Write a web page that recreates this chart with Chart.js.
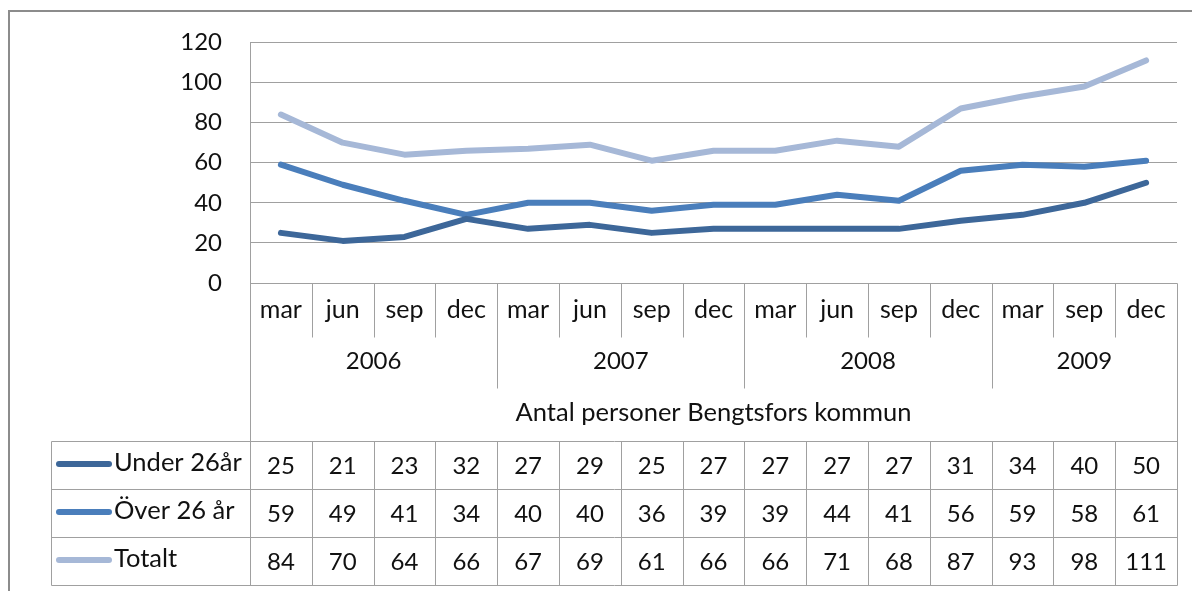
<!DOCTYPE html>
<html>
<head>
<meta charset="utf-8">
<script src="https://cdn.jsdelivr.net/npm/chart.js@4"></script>
<style>
  html, body { margin: 0; padding: 0; background: #fff; }
  #wrap { width: 1192px; height: 591px; }
</style>
</head>
<body>
<div id="wrap"><canvas id="lineChart" width="1192" height="591"></canvas></div>
<script>
var months = ['mar', 'jun', 'sep', 'dec', 'mar', 'jun', 'sep', 'dec', 'mar', 'jun', 'sep', 'dec', 'mar', 'sep', 'dec'];
var years = ['2006', '2007', '2008', '2009'];
var yearSpans = [4, 4, 4, 3];
var axisTitle = 'Antal personer Bengtsfors kommun';
var under26 = [25, 21, 23, 32, 27, 29, 25, 27, 27, 27, 27, 31, 34, 40, 50];
var over26 = [59, 49, 41, 34, 40, 40, 36, 39, 39, 44, 41, 56, 59, 58, 61];
var totalt = [84, 70, 64, 66, 67, 69, 61, 66, 66, 71, 68, 87, 93, 98, 111];
var yTicks = [0, 20, 40, 60, 80, 100, 120];

var FONT = 'Lato, "Open Sans", sans-serif';
var gridColor = '#a0a0a0';

// draws the data table below the plot, using the x scale's positions
var dataTable = {
    id: 'dataTable',
    afterDraw: function (chart) {
        var c = chart.ctx;
        var x = chart.scales.x;
        var area = chart.chartArea;
        var n = months.length;
        var w = (area.right - area.left) / n;
        var top = area.bottom;
        var monthBottom = top + 54;
        var yearBottom = top + 105;
        var tableTop = top + 158;
        var rowH = 48;
        var legendLeft = 51;
        var tableBottom = tableTop + rowH * 3;

        c.save();
        c.strokeStyle = gridColor;
        c.lineWidth = 1;

        function line(x1, y1, x2, y2) {
            c.beginPath();
            c.moveTo(Math.round(x1) + 0.5, Math.round(y1) + 0.5);
            c.lineTo(Math.round(x2) + 0.5, Math.round(y2) + 0.5);
            c.stroke();
        }

        // outer chart border
        c.strokeStyle = '#8c8c8c';
        c.lineWidth = 2;
        c.strokeRect(9, 11, 1300, 700);
        c.lineWidth = 1;
        c.strokeStyle = gridColor;

        // axis line and left/right edges
        line(area.left, top, area.right, top);
        line(area.left, top, area.left, tableBottom);
        line(area.right, top, area.right, tableBottom);

        // month separators
        for (var i = 1; i < n; i++) {
            line(area.left + i * w, top, area.left + i * w, monthBottom);
        }
        // year separators
        var acc = 0;
        for (var j = 0; j < yearSpans.length - 1; j++) {
            acc += yearSpans[j];
            line(area.left + acc * w, top, area.left + acc * w, yearBottom);
        }

        // table grid
        for (var r = 0; r <= 3; r++) {
            line(legendLeft, tableTop + r * rowH, area.right, tableTop + r * rowH);
        }
        line(legendLeft, tableTop, legendLeft, tableBottom);
        for (var k = 1; k < n; k++) {
            line(area.left + k * w, tableTop, area.left + k * w, tableBottom);
        }

        // texts
        c.fillStyle = '#111';
        c.font = '25px ' + FONT;
        c.textAlign = 'center';
        c.textBaseline = 'middle';
        for (var m = 0; m < n; m++) {
            c.fillText(months[m], x.getPixelForValue(m), top + 27);
        }
        c.font = '24px ' + FONT;
        acc = 0;
        for (var y = 0; y < years.length; y++) {
            var mid = area.left + (acc + yearSpans[y] / 2) * w;
            c.fillText(years[y], mid, top + 78);
            acc += yearSpans[y];
        }
        c.font = '25.5px ' + FONT;
        c.fillText(axisTitle, (area.left + area.right) / 2, top + 130);

        chart.data.datasets.forEach(function (ds, r) {
            var cy = tableTop + r * rowH + rowH / 2 + 1;
            c.font = '24px ' + FONT;
            c.textAlign = 'center';
            ds.data.forEach(function (v, i) {
                c.fillText(String(v), x.getPixelForValue(i), cy);
            });
            // legend key
            c.strokeStyle = ds.borderColor;
            c.lineWidth = 6;
            c.lineCap = 'round';
            c.beginPath();
            c.moveTo(59, cy - 2);
            c.lineTo(109, cy - 2);
            c.stroke();
            c.font = '25.5px ' + FONT;
            c.textAlign = 'left';
            c.fillText(ds.label, 114, cy - 3);
        });
        c.restore();
    }
};

var ctx = document.getElementById('lineChart').getContext('2d');
var myChart = new Chart(ctx, {
    type: 'line',
    data: {
        labels: months,
        datasets: [
            {
                label: 'Under 26år',
                data: under26,
                borderColor: '#3d6799',
                borderWidth: 6
            },
            {
                label: 'Över 26 år',
                data: over26,
                borderColor: '#4a7ebb',
                borderWidth: 6
            },
            {
                label: 'Totalt',
                data: totalt,
                borderColor: '#a6b8d7',
                borderWidth: 6
            }
        ]
    },
    options: {
        responsive: false,
        animation: false,
        layout: { padding: { top: 42, right: 15, bottom: 308, left: 0 } },
        elements: {
            point: { radius: 0 },
            line: { tension: 0, borderJoinStyle: 'round', borderCapStyle: 'round' }
        },
        plugins: {
            legend: { display: false },
            tooltip: { enabled: false }
        },
        scales: {
            x: {
                offset: true,
                grid: { display: false },
                border: { display: false },
                ticks: { display: false },
                afterFit: function (s) { s.height = 0; }
            },
            y: {
                min: 0,
                max: 120,
                afterBuildTicks: function (s) {
                    s.ticks = yTicks.map(function (v) { return { value: v }; });
                },
                afterFit: function (s) { s.width = 250; },
                grid: { color: gridColor, drawTicks: false },
                border: { display: true, color: gridColor },
                ticks: {
                    padding: 28,
                    color: '#111',
                    font: { family: FONT, size: 24 }
                }
            }
        }
    },
    plugins: [dataTable]
});
</script>
</body>
</html>
